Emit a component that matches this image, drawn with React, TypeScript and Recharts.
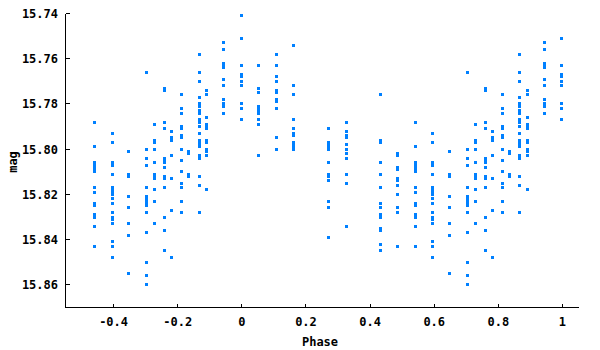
import { ScatterChart, Scatter, XAxis, YAxis } from "recharts";

const xTicks = [-0.4, -0.2, 0, 0.2, 0.4, 0.6, 0.8, 1];
const yTicks = [15.74, 15.76, 15.78, 15.8, 15.82, 15.84, 15.86];

// phase of each observing run (folded), one mag list per run
const runPhases = [
  0.0, 0.053, 0.108, 0.162, 0.269, 0.325, 0.434, 0.487, 0.541, 0.596, 0.647,
  0.703, 0.728, 0.76, 0.781, 0.813, 0.834, 0.867, 0.89, 0.944, 0.998,
];

const magA = [15.7407];
const magB = [15.763, 15.773, 15.775, 15.781, 15.782, 15.783, 15.784, 15.787, 15.789, 15.803];
const magC = [15.758, 15.763, 15.768, 15.77, 15.774, 15.775, 15.778, 15.779, 15.782, 15.795, 15.8];
const magD = [15.754, 15.772, 15.776, 15.787, 15.791, 15.793, 15.794, 15.797, 15.798, 15.799, 15.8, 15.8];
const magE = [15.791, 15.797, 15.798, 15.799, 15.8, 15.806, 15.811, 15.812, 15.814, 15.823, 15.826, 15.839];
const magF = [15.788, 15.792, 15.794, 15.795, 15.798, 15.8, 15.802, 15.804, 15.811, 15.815, 15.834];
const magG = [15.776, 15.796, 15.797, 15.806, 15.811, 15.817, 15.824, 15.826, 15.829, 15.83, 15.835, 15.836, 15.842, 15.845];
const magH = [15.802, 15.803, 15.808, 15.809, 15.813, 15.814, 15.816, 15.82, 15.826, 15.826, 15.828, 15.843];
const magI = [15.788, 15.799, 15.806, 15.807, 15.808, 15.809, 15.81, 15.817, 15.819, 15.824, 15.825, 15.829, 15.83, 15.834, 15.843];
const magJ = [15.793, 15.797, 15.806, 15.807, 15.811, 15.817, 15.818, 15.819, 15.82, 15.822, 15.824, 15.828, 15.83, 15.831, 15.833, 15.841, 15.843, 15.848];
const magK = [15.801, 15.811, 15.812, 15.821, 15.826, 15.833, 15.838, 15.855];
const magL = [15.766, 15.8, 15.804, 15.807, 15.817, 15.821, 15.822, 15.823, 15.824, 15.825, 15.828, 15.837, 15.85, 15.856, 15.86];
const magM = [15.789, 15.796, 15.797, 15.8, 15.806, 15.811, 15.812, 15.813, 15.818, 15.823, 15.833];
const magN = [15.773, 15.774, 15.788, 15.791, 15.804, 15.805, 15.806, 15.808, 15.812, 15.813, 15.817, 15.83, 15.836, 15.845];
const magO = [15.792, 15.795, 15.796, 15.803, 15.813, 15.827, 15.848];
const magP = [15.776, 15.782, 15.784, 15.79, 15.791, 15.794, 15.795, 15.8, 15.805, 15.81, 15.815, 15.817, 15.823, 15.828];
const magQ = [15.801, 15.802, 15.811, 15.812];
const magR = [15.758, 15.766, 15.77, 15.777, 15.78, 15.781, 15.783, 15.784, 15.787, 15.788, 15.79, 15.793, 15.796, 15.797, 15.798, 15.799, 15.803, 15.804, 15.812, 15.816, 15.828];
const magS = [15.774, 15.776, 15.786, 15.789, 15.79, 15.791, 15.796, 15.797, 15.8, 15.801, 15.803, 15.818];
const magT = [15.753, 15.756, 15.762, 15.763, 15.764, 15.769, 15.772, 15.778, 15.78, 15.781, 15.784];
const magU = [15.751, 15.763, 15.767, 15.768, 15.77, 15.772, 15.78, 15.782, 15.787];

const runMags = [
  magA, magB, magC, magD, magE, magF, magG, magH, magI, magJ, magK,
  magL, magM, magN, magO, magP, magQ, magR, magS, magT, magU,
];

// second half of the cycle is also shown one period earlier
const points: { phase: number; mag: number }[] = [];
runMags.forEach((mags, i) => {
  mags.forEach((mag) => {
    points.push({ phase: runPhases[i], mag });
    if (runPhases[i] >= 0.5) points.push({ phase: runPhases[i] - 1, mag });
  });
});

const FONT = "'DejaVu Sans Mono', monospace";
const BLUE = "#0080ff";

const BottomTick = ({ x, y, payload }: any) => (
  <g>
    <line x1={x} y1={y} x2={x} y2={y - 4} stroke="#000" shapeRendering="crispEdges" />
    <text x={x} y={y + 18.5} textAnchor="middle" fontFamily={FONT} fontWeight="bold" fontSize={12} fill="#000">
      {String(payload.value)}
    </text>
  </g>
);

const TopTick = ({ x, y }: any) => (
  <line x1={x} y1={y} x2={x} y2={y + 4} stroke="#000" shapeRendering="crispEdges" />
);

const LeftTick = ({ x, y, payload }: any) => (
  <g>
    <line x1={x} y1={y} x2={x + 4} y2={y} stroke="#000" shapeRendering="crispEdges" />
    <text x={x - 7.5} y={y + 4.4} textAnchor="end" fontFamily={FONT} fontWeight="bold" fontSize={12} fill="#000">
      {Number(payload.value).toFixed(2)}
    </text>
  </g>
);

const RightTick = ({ x, y }: any) => (
  <line x1={x} y1={y} x2={x - 4} y2={y} stroke="#000" shapeRendering="crispEdges" />
);

const XTitle = ({ viewBox }: any) => (
  <text x={viewBox.x + viewBox.width / 2 - 2} y={viewBox.y + 38} textAnchor="middle" fontFamily={FONT} fontWeight="bold" fontSize={12} fill="#000">
    Phase
  </text>
);

const YTitle = ({ viewBox }: any) => {
  const cx = viewBox.x + 16.5;
  const cy = viewBox.y + viewBox.height / 2 + 1.5;
  return (
    <text x={0} y={0} transform={`translate(${cx}, ${cy}) rotate(-90)`} textAnchor="middle" fontFamily={FONT} fontWeight="bold" fontSize={12} fill="#000">
      mag
    </text>
  );
};

const Dot = (p: any) => (
  <rect x={p.cx - 1.5} y={p.cy - 1.5} width={3} height={3} fill={BLUE} shapeRendering="crispEdges" />
);

const NoDot = () => <g />;

export default function App() {
  const axisLine = { stroke: "#000", strokeWidth: 1, shapeRendering: "crispEdges" };
  return (
    <div style={{ width: 600, height: 350, margin: "-8px 0 0 -8px" }}>
      <ScatterChart width={600} height={350} margin={{ top: 13.5, right: 21.5, bottom: 0, left: 0 }}>
        <XAxis
          xAxisId="b"
          dataKey="phase"
          type="number"
          domain={[-0.55, 1.05]}
          ticks={xTicks}
          interval={0}
          allowDataOverflow
          height={42.5}
          tickSize={0}
          tickMargin={0}
          tickLine={false}
          axisLine={axisLine}
          tick={<BottomTick />}
          label={<XTitle />}
        />
        <XAxis
          xAxisId="t"
          dataKey="phase"
          orientation="top"
          type="number"
          domain={[-0.55, 1.05]}
          ticks={xTicks}
          interval={0}
          allowDataOverflow
          height={0}
          tickSize={0}
          tickMargin={0}
          tickLine={false}
          axisLine={axisLine}
          tick={<TopTick />}
        />
        <YAxis
          yAxisId="l"
          dataKey="mag"
          type="number"
          domain={[15.74, 15.87]}
          ticks={yTicks}
          interval={0}
          reversed
          allowDataOverflow
          width={65.5}
          tickSize={0}
          tickMargin={0}
          tickLine={false}
          axisLine={axisLine}
          tick={<LeftTick />}
          label={<YTitle />}
        />
        <YAxis
          yAxisId="r"
          dataKey="mag"
          orientation="right"
          type="number"
          domain={[15.74, 15.87]}
          ticks={yTicks}
          interval={0}
          reversed
          allowDataOverflow
          width={0}
          tickSize={0}
          tickMargin={0}
          tickLine={false}
          axisLine={axisLine}
          tick={<RightTick />}
        />
        <Scatter data={points} xAxisId="t" yAxisId="r" shape={<NoDot />} isAnimationActive={false} />
        <Scatter data={points} xAxisId="b" yAxisId="l" fill={BLUE} shape={<Dot />} isAnimationActive={false} />
      </ScatterChart>
    </div>
  );
}
